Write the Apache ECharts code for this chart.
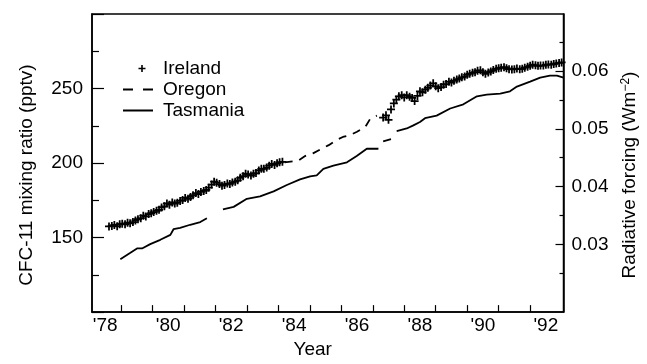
<!DOCTYPE html>
<html>
<head>
<meta charset="utf-8">
<script src="https://cdn.jsdelivr.net/npm/echarts@6/dist/echarts.min.js"></script>
<style>
  html, body { margin: 0; padding: 0; background: #fff; }
  #chart { width: 647px; height: 364px; }
</style>
</head>
<body>
<div id="chart"></div>
<script>
// CFC-11 mixing ratios (pptv) against decimal year.
// Ireland (monthly means, two records with a gap in the mid 1980s)
const irelandT = [
  1978.62, 1978.71, 1978.79, 1978.88, 1978.96, 1979.04, 1979.13, 1979.21, 1979.29, 1979.38,
  1979.46, 1979.54, 1979.63, 1979.71, 1979.79, 1979.88, 1979.96, 1980.04, 1980.13, 1980.21,
  1980.29, 1980.38, 1980.46, 1980.54, 1980.63, 1980.71, 1980.79, 1980.88, 1980.96, 1981.04,
  1981.13, 1981.21, 1981.29, 1981.38, 1981.46, 1981.54, 1981.63, 1981.71, 1981.79, 1981.88,
  1981.96, 1982.04, 1982.13, 1982.21, 1982.29, 1982.38, 1982.46, 1982.54, 1982.63, 1982.71,
  1982.79, 1982.88, 1982.96, 1983.04, 1983.13, 1983.21, 1983.29, 1983.38, 1983.46, 1983.54,
  1983.63, 1983.71, 1983.79, 1983.88, 1983.96, 1984.04, 1984.13,
  1987.33, 1987.42, 1987.50, 1987.58, 1987.67, 1987.75, 1987.83, 1987.92, 1988.00, 1988.08,
  1988.17, 1988.25, 1988.33, 1988.42, 1988.50, 1988.58, 1988.67, 1988.75, 1988.83, 1988.92,
  1989.00, 1989.08, 1989.17, 1989.25, 1989.33, 1989.42, 1989.50, 1989.58, 1989.67, 1989.75,
  1989.83, 1989.92, 1990.00, 1990.08, 1990.17, 1990.25, 1990.33, 1990.42, 1990.50, 1990.58,
  1990.67, 1990.75, 1990.83, 1990.92, 1991.00, 1991.08, 1991.17, 1991.25, 1991.33, 1991.42,
  1991.50, 1991.58, 1991.67, 1991.75, 1991.83, 1991.92, 1992.00, 1992.08, 1992.17, 1992.25,
  1992.33, 1992.42, 1992.50, 1992.58, 1992.67, 1992.75, 1992.83, 1992.92, 1993.00
];
const irelandV = [
  157.5, 157.8, 158.5, 157.6, 159.0, 159.3, 158.9, 160.0, 159.6, 160.4,
  161.5, 162.3, 163.0, 164.7, 164.2, 165.8, 166.4, 167.1, 168.0, 168.6,
  170.2, 171.0, 172.9, 172.1, 173.6, 172.8, 173.4, 174.6, 175.2, 176.6,
  176.0, 177.3, 178.4, 179.9, 179.2, 180.6, 181.3, 182.0, 183.5, 185.6,
  187.5, 186.8, 185.9, 184.8, 185.3, 186.2, 186.0, 186.9, 187.5, 188.4,
  190.1, 191.2, 192.9, 192.3, 191.6, 192.8, 193.3, 195.0, 196.1, 196.1,
  197.0, 198.2, 199.4, 198.7, 199.8, 200.5, 200.8,
  230.5, 232.0, 229.0, 236.0, 240.0, 242.5, 244.8, 245.5, 244.0, 245.5,
  244.5, 243.7, 241.6, 245.0, 248.1, 247.5, 249.2, 250.5, 252.0, 253.5,
  251.5, 250.2, 251.0, 252.6, 253.0, 254.6, 254.0, 255.2, 256.0, 256.7,
  257.5, 258.0, 259.2, 259.9, 260.5, 261.0, 262.0, 262.2, 261.0, 259.9,
  260.8, 261.5, 262.4, 263.2, 263.6, 264.0, 264.3, 263.6, 263.0, 262.8,
  263.0, 263.4, 263.0, 263.2, 264.0, 264.6, 265.3, 266.0, 265.6, 265.2,
  265.4, 265.4, 265.9, 266.2, 266.0, 266.4, 266.8, 267.2, 267.5
];

// Oregon, bridging the Irish gap
const oregonT = [1984.20, 1984.62, 1984.85, 1985.10, 1985.33, 1985.60, 1985.86, 1986.05, 1986.28, 1986.50, 1986.76, 1986.92, 1987.13];
const oregonV = [200.5, 201.5, 204.7, 206.5, 209.1, 212.0, 215.6, 217.5, 218.8, 221.0, 224.2, 229.7, 231.8];

// Tasmania (null marks a break in the record)
const tasmaniaT = [
  1978.98, 1979.30, 1979.51, 1979.67, 1979.93, 1980.25, 1980.57, 1980.67, 1980.88, 1981.20, 1981.52, 1981.73,
  1982.00,
  1982.24, 1982.58, 1983.00, 1983.42, 1983.85, 1984.27, 1984.69, 1985.01, 1985.22, 1985.43, 1985.75, 1986.18,
  1986.49, 1986.81, 1987.13, 1987.18,
  1987.25,
  1987.33, 1987.58,
  1987.68,
  1987.76, 1988.08, 1988.29, 1988.50, 1988.66, 1989.03, 1989.46, 1989.88, 1990.31, 1990.62, 1991.05, 1991.36,
  1991.58, 1992.00, 1992.32, 1992.63, 1992.85, 1993.06
];
const tasmaniaV = [
  135.5, 139.8, 142.7, 142.7, 145.6, 148.5, 151.8, 155.6, 156.5, 158.6, 160.4, 163.0,
  null,
  169.0, 170.6, 176.0, 177.7, 181.0, 185.3, 189.0, 191.1, 191.8, 196.1, 198.2, 200.5,
  204.7, 209.6, 209.7, 209.6,
  null,
  214.5, 216.0,
  null,
  221.4, 223.2, 225.3, 227.5, 230.1, 231.8, 236.6, 239.4, 244.8, 245.9, 246.6, 248.1,
  251.3, 254.6, 257.3, 258.6, 258.6, 257.3
];

// Axis ticks and labels
const yearTicks = [1979, 1980, 1981, 1982, 1983, 1984, 1985, 1986, 1987, 1988, 1989, 1990, 1991, 1992];
const yearLabels = [1978, 1980, 1982, 1984, 1986, 1988, 1990, 1992];
const forcingTicks = [0.03, 0.04, 0.05, 0.06];
const forcingMinorTicks = [0.025, 0.035, 0.045, 0.055, 0.065];

const FONT = '"Liberation Sans", Arial, Helvetica, sans-serif';
const FS = 19;
const BLACK = '#000';
const plusSymbol = 'path://M3.9,0H6.1V3.9H10V6.1H6.1V10H3.9V6.1H0V3.9H3.9Z';

// Legend keys, each drawn in a 30x14 box (tiny corner specks fix the box size)
const box = 'M0,0h0.01v0.01z M30,14h-0.01v-0.01z ';
const keyPlus = 'path://' + box + 'M18.2,3.5h1.6v2.7h2.7v1.6h-2.7v2.7h-1.6v-2.7h-2.7v-1.6h2.7z';
const keyDash = 'path://' + box + 'M0,6.1h10v1.8h-10z M20,6.1h10v1.8h-10z';
const keySolid = 'path://' + box + 'M0,6.1h30v1.8h-30z';

const pairs = (t, v) => t.map((x, i) => [x, v[i] === null ? '-' : v[i]]);

const FORCING_MIN = 0.01833, FORCING_MAX = 0.06983;

// vertical axis titles sit a little below the middle of the frame
const titleShift = [0, 24, 0, 0];

const chart = echarts.init(document.getElementById('chart'), null, { renderer: 'canvas' });

chart.setOption({
  backgroundColor: '#fff',
  animation: false,
  textStyle: { fontFamily: FONT, color: BLACK },
  grid: {
    left: 92, right: 83, top: 14, bottom: 41,
    show: true, borderColor: BLACK, borderWidth: 1.5, backgroundColor: 'transparent'
  },
  legend: {
    orient: 'vertical',
    left: 123, top: 59,
    padding: 0,
    itemGap: 2,
    itemWidth: 30, itemHeight: 14,
    symbolKeepAspect: true,
    textStyle: { fontFamily: FONT, fontSize: FS, color: BLACK, lineHeight: 19, padding: [0, 0, 0, 5] },
    data: [
      { name: 'Ireland', icon: keyPlus, itemStyle: { color: BLACK, opacity: 1 } },
      { name: 'Oregon', icon: keyDash, itemStyle: { color: BLACK, opacity: 1 } },
      { name: 'Tasmania', icon: keySolid, itemStyle: { color: BLACK, opacity: 1 } }
    ]
  },
  xAxis: {
    type: 'value',
    min: 1978.08, max: 1993.06,
    name: 'Year',
    nameLocation: 'middle',
    nameGap: 27,
    nameTextStyle: { fontFamily: FONT, fontSize: FS, color: BLACK, padding: [0, 30, 0, 0] },
    axisLine: { show: true, lineStyle: { color: BLACK, width: 1.5 } },
    axisTick: {
      show: true, inside: true, length: 7,
      customValues: yearTicks,
      lineStyle: { color: BLACK, width: 1.2 }
    },
    axisLabel: {
      customValues: yearLabels.map(y => y + 0.5),
      formatter: v => "'" + String(Math.floor(v)).slice(2),
      fontFamily: FONT, fontSize: FS, color: BLACK, margin: 4
    },
    splitLine: { show: false }
  },
  yAxis: [
    {
      type: 'value',
      min: 100, max: 300, interval: 50,
      name: 'CFC-11 mixing ratio (pptv)',
      nameLocation: 'middle',
      nameGap: 56,
      nameTextStyle: { fontFamily: FONT, fontSize: FS, color: BLACK, padding: titleShift },
      axisLine: { show: true, lineStyle: { color: BLACK, width: 1.5 } },
      axisTick: { show: true, inside: true, length: 12, lineStyle: { color: BLACK, width: 1.2 } },
      minorTick: { show: true, splitNumber: 2, length: 7, lineStyle: { color: BLACK, width: 1.2 } },
      axisLabel: {
        showMinLabel: false, showMaxLabel: false,
        fontFamily: FONT, fontSize: FS, color: BLACK, margin: 9
      },
      splitLine: { show: false }
    },
    {
      type: 'value',
      position: 'right',
      min: FORCING_MIN, max: FORCING_MAX,
      name: 'Radiative forcing (Wm{sup|−2})',
      nameLocation: 'middle',
      nameGap: 56,
      nameTextStyle: {
        fontFamily: FONT, fontSize: FS, color: BLACK, padding: titleShift,
        rich: { sup: { fontFamily: FONT, fontSize: 12, color: BLACK, verticalAlign: 'top', padding: [0, 0, 8, 0] } }
      },
      axisLine: { show: true, lineStyle: { color: BLACK, width: 1.5 } },
      axisTick: {
        show: true, inside: true, length: 8,
        customValues: forcingTicks,
        lineStyle: { color: BLACK, width: 1.2 }
      },
      axisLabel: {
        customValues: forcingTicks,
        formatter: v => v.toFixed(2),
        fontFamily: FONT, fontSize: FS, color: BLACK, margin: 8
      },
      splitLine: { show: false }
    },
    {
      // short half-step ticks on the forcing scale
      type: 'value',
      position: 'right',
      min: FORCING_MIN, max: FORCING_MAX,
      axisLine: { show: false },
      axisTick: {
        show: true, inside: true, length: 4,
        customValues: forcingMinorTicks,
        lineStyle: { color: BLACK, width: 1.2 }
      },
      axisLabel: { show: false },
      splitLine: { show: false }
    }
  ],
  series: [
    {
      name: 'Ireland',
      type: 'scatter',
      symbol: plusSymbol,
      symbolSize: 8,
      itemStyle: { color: BLACK, opacity: 1 },
      data: pairs(irelandT, irelandV)
    },
    {
      name: 'Oregon',
      type: 'line',
      symbol: 'none',
      lineStyle: { color: BLACK, width: 1.8, type: [8, 7] },
      itemStyle: { color: BLACK },
      data: pairs(oregonT, oregonV)
    },
    {
      name: 'Tasmania',
      type: 'line',
      symbol: 'none',
      connectNulls: false,
      lineStyle: { color: BLACK, width: 1.8 },
      itemStyle: { color: BLACK },
      data: pairs(tasmaniaT, tasmaniaV)
    }
  ]
});
</script>
</body>
</html>
